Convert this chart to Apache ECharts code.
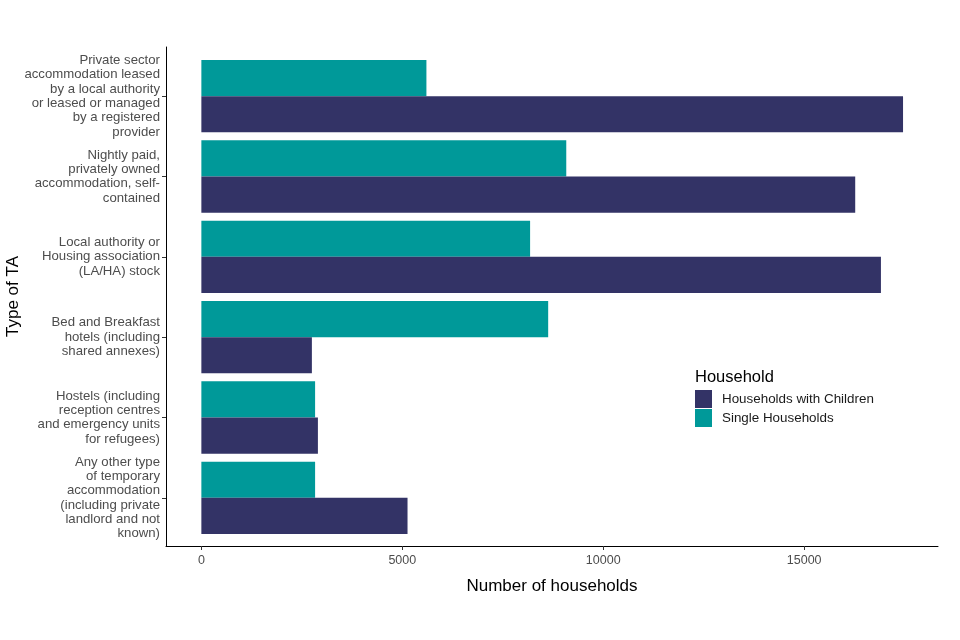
<!DOCTYPE html>
<html>
<head>
<meta charset="utf-8">
<script src="https://cdn.jsdelivr.net/npm/echarts@6/dist/echarts.min.js"></script>
<style>html,body{margin:0;padding:0;background:#fff}#c{width:960px;height:640px}</style>
</head>
<body>
<div id="c"></div>
<script>
const categories = [
  "Private sector\naccommodation leased\nby a local authority\nor leased or managed\nby a registered\nprovider",
  "Nightly paid,\nprivately owned\naccommodation, self-\ncontained",
  "Local authority or\nHousing association\n(LA/HA) stock",
  "Bed and Breakfast\nhotels (including\nshared annexes)",
  "Hostels (including\nreception centres\nand emergency units\nfor refugees)",
  "Any other type\nof temporary\naccommodation\n(including private\nlandlord and not\nknown)"
];
const singleHouseholds = [5600, 9080, 8180, 8630, 2830, 2830];
const householdsWithChildren = [17460, 16270, 16910, 2750, 2900, 5130];
const xTicks = [0, 5000, 10000, 15000];

const FONT = "'Liberation Sans', Arial, sans-serif";
const chart = echarts.init(document.getElementById('c'));
chart.setOption({
  backgroundColor: '#fff',
  animation: false,
  textStyle: { fontFamily: FONT },
  title: {
    text: 'Household', left: 690, top: 364,
    textStyle: { fontSize: 16.5, fontWeight: 'normal', color: '#000', fontFamily: FONT }
  },
  legend: {
    orient: 'vertical', left: 690, top: 385,
    itemWidth: 17, itemHeight: 18, itemGap: 1,
    icon: 'rect',
    data: ['Households with Children', 'Single Households'],
    textStyle: { fontSize: 13.4, color: '#1a1a1a', fontFamily: FONT, padding: [0, 0, 0, 5] }
  },
  grid: [
    { left: 166, right: 22, top: 56, bottom: 102, outerBoundsMode: 'none', containLabel: false },
    { left: 166, right: 22, top: 47, bottom: 94, outerBoundsMode: 'none', containLabel: false }
  ],
  xAxis: [
    { gridIndex: 0, type: 'value', min: -880, max: 18330, show: false },
    {
      gridIndex: 1, type: 'value', min: -880, max: 18330,
      axisLine: { show: true, onZero: false, lineStyle: { color: '#000', width: 1 } },
      axisTick: { show: true, customValues: xTicks, length: 4, lineStyle: { color: '#333' } },
      axisLabel: { customValues: xTicks, color: '#4d4d4d', fontSize: 12.5, margin: 8, fontFamily: FONT,
        formatter: function (v) { return String(v); } },
      splitLine: { show: false },
      name: 'Number of households', nameLocation: 'middle', nameGap: 32,
      nameTextStyle: { fontSize: 17, color: '#000', fontFamily: FONT }
    }
  ],
  yAxis: [
    {
      gridIndex: 0, type: 'category', data: categories, inverse: true,
      axisLine: { show: false, onZero: false },
      axisTick: { show: true, alignWithLabel: true, length: 4, lineStyle: { color: '#333' } },
      axisLabel: { color: '#4d4d4d', fontSize: 13.2, lineHeight: 14.3, margin: 6, align: 'right', fontFamily: FONT }
    },
    {
      gridIndex: 1, type: 'value', min: 0, max: 1,
      axisLine: { show: true, onZero: false, lineStyle: { color: '#000', width: 1 } },
      axisTick: { show: false }, axisLabel: { show: false }, splitLine: { show: false },
      name: 'Type of TA', nameLocation: 'middle', nameGap: 144, nameRotate: 90,
      nameTextStyle: { fontSize: 17, color: '#000', fontFamily: FONT }
    }
  ],
  series: [
    {
      name: 'Single Households', type: 'bar', xAxisIndex: 0, yAxisIndex: 0,
      data: singleHouseholds, itemStyle: { color: '#009999' },
      barGap: '0%', barCategoryGap: '10%'
    },
    {
      name: 'Households with Children', type: 'bar', xAxisIndex: 0, yAxisIndex: 0,
      data: householdsWithChildren, itemStyle: { color: '#333366' },
      barGap: '0%', barCategoryGap: '10%'
    }
  ]
});
</script>
</body>
</html>
